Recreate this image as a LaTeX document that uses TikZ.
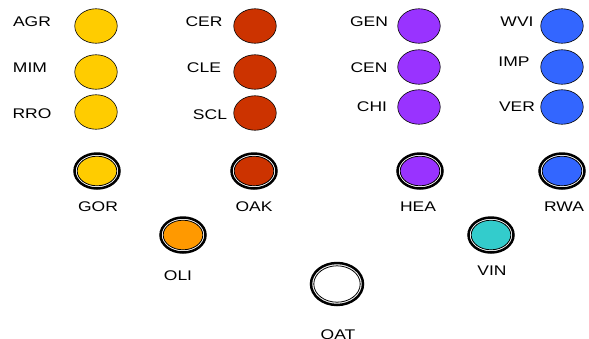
\documentclass[tikz,border=0pt]{standalone}
\usepackage{fontspec}
\setmainfont{Liberation Sans}[FakeStretch=1.25]
\definecolor{gold}{HTML}{FFCC00}
\definecolor{rust}{HTML}{CC3300}
\definecolor{violet}{HTML}{9933FF}
\definecolor{royal}{HTML}{3366FF}
\definecolor{amber}{HTML}{FF9900}
\definecolor{teal}{HTML}{33CCCC}
\usetikzlibrary{shapes.geometric}
\tikzset{
  lbl/.style={inner sep=0pt,font=\fontsize{14}{16}\selectfont},
  st/.style={ellipse,draw,line width=0.6pt,minimum width=42.5pt,minimum height=34.5pt,inner sep=0pt,fill=#1},
  fin/.style={ellipse,draw,line width=2.5pt,minimum width=45pt,minimum height=35pt,inner sep=0pt,fill=white},
  ring/.style={draw,line width=0.8pt,fill=#1}
}
\begin{document}
\begin{tikzpicture}[x=1pt,y=-1pt]
 \useasboundingbox (0,0) rectangle (589,338);
 % yellow column
 \node[st=gold](agr) at (96,26) {};
 \node[st=gold](mim) at (96,72) {};
 \node[st=gold](rro) at (96,112) {};
 \node[lbl](agrl) at (32,22) {AGR};
 \node[lbl](miml) at (30,68) {MIM};
 \node[lbl](rrol) at (32,114) {RRO};
 % red column
 \node[st=rust](cer) at (255,26) {};
 \node[st=rust](cle) at (255,72) {};
 \node[st=rust](scl) at (255,113) {};
 \node[lbl](cerl) at (204,22) {CER};
 \node[lbl](clel) at (204,68) {CLE};
 \node[lbl](scll) at (210,115) {SCL};
 % purple column
 \node[st=violet](gen) at (419,26) {};
 \node[st=violet](cen) at (419,67) {};
 \node[st=violet](chi) at (419,107) {};
 \node[lbl](genl) at (369,22) {GEN};
 \node[lbl](cenl) at (369,68) {CEN};
 \node[lbl](chil) at (372,107) {CHI};
 % blue column
 \node[st=royal](wvi) at (562,26) {};
 \node[st=royal](imp) at (562,67) {};
 \node[st=royal](ver) at (562,107) {};
 \node[lbl](wvil) at (517,22) {WVI};
 \node[lbl](impl) at (514,62) {IMP};
 \node[lbl](verl) at (517,107) {VER};
 % final states
 \node[fin](gor) at (97,171) {};
 \draw[ring=gold] (gor.center) ellipse (19.8 and 14.8);
 \node[lbl](gorl) at (98,207) {GOR};
 \node[fin](oak) at (254,171) {};
 \draw[ring=rust] (oak.center) ellipse (19.8 and 14.8);
 \node[lbl](oakl) at (254,207) {OAK};
 \node[fin](hea) at (420,171) {};
 \draw[ring=violet] (hea.center) ellipse (19.8 and 14.8);
 \node[lbl](heal) at (418,207) {HEA};
 \node[fin](rwa) at (562,171) {};
 \draw[ring=royal] (rwa.center) ellipse (19.8 and 14.8);
 \node[lbl](rwal) at (564,207) {RWA};
 \node[fin](oli) at (183,235) {};
 \draw[ring=amber] (oli.center) ellipse (19.8 and 14.8);
 \node[lbl](olil) at (178,276) {OLI};
 \node[fin](vin) at (491,235) {};
 \draw[ring=teal] (vin.center) ellipse (19.8 and 14.8);
 \node[lbl](vinl) at (492,271) {VIN};
 \node[fin,minimum width=52pt,minimum height=42pt](oat) at (337,284) {};
 \draw[ring=white] (oat.center) ellipse (23.2 and 18.2);
 \node[lbl](oatl) at (338,335) {OAT};
\end{tikzpicture}
\end{document}
